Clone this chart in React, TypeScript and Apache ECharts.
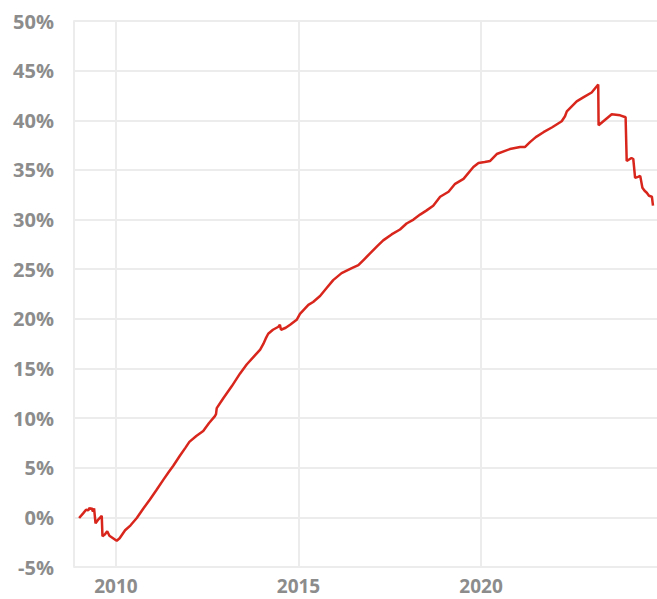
import React, { useEffect, useRef } from "react";
import * as echarts from "echarts";

// Decimal years and cumulative change (%)
const years: number[] = [
  2008.99, 2009.1, 2009.18, 2009.24, 2009.27, 2009.31, 2009.33, 2009.37, 2009.4, 2009.44,
  2009.52, 2009.61, 2009.63, 2009.7, 2009.76, 2009.82, 2009.92, 2010.02, 2010.1, 2010.25,
  2010.4, 2010.57, 2010.75, 2010.93, 2011.1, 2011.3, 2011.45, 2011.57, 2011.75, 2011.9,
  2012.01, 2012.2, 2012.39, 2012.55, 2012.71, 2012.74, 2012.76, 2012.94, 2013.17, 2013.4,
  2013.58, 2013.8, 2013.95, 2014.04, 2014.1, 2014.17, 2014.3, 2014.45, 2014.49, 2014.52,
  2014.65, 2014.77, 2014.95, 2015.04, 2015.27, 2015.4, 2015.59, 2015.77, 2015.95, 2016.18,
  2016.46, 2016.64, 2016.8, 2016.96, 2017.15, 2017.32, 2017.55, 2017.78, 2017.96, 2018.15,
  2018.33, 2018.5, 2018.69, 2018.88, 2019.11, 2019.29, 2019.52, 2019.79, 2019.93, 2020.1,
  2020.25, 2020.43, 2020.79, 2021.07, 2021.2, 2021.34, 2021.5, 2021.71, 2021.95, 2022.21,
  2022.3, 2022.35, 2022.62, 2022.8, 2023.03, 2023.21, 2023.22, 2023.58, 2023.81, 2023.96,
  2023.99, 2024.12, 2024.17, 2024.22, 2024.3, 2024.36, 2024.42, 2024.48, 2024.54, 2024.6,
  2024.68, 2024.71,
];

const values: number[] = [
  -0.07, 0.4, 0.77, 0.7, 0.95, 0.85, 0.95, 0.6, 0.9, -0.6,
  -0.2, 0.15, -1.9, -1.7, -1.4, -1.85, -2.1, -2.35, -2.1, -1.3,
  -0.8, -0.07, 0.9, 1.8, 2.7, 3.8, 4.6, 5.2, 6.2, 7.0,
  7.6, 8.2, 8.7, 9.5, 10.2, 10.4, 11.0, 12.0, 13.2, 14.5,
  15.4, 16.3, 16.9, 17.5, 18.0, 18.5, 18.9, 19.2, 19.4, 18.9,
  19.1, 19.4, 19.9, 20.5, 21.4, 21.7, 22.3, 23.1, 23.9, 24.6,
  25.1, 25.4, 26.0, 26.6, 27.3, 27.9, 28.5, 29.0, 29.6, 30.0,
  30.5, 30.9, 31.4, 32.3, 32.8, 33.6, 34.1, 35.3, 35.7, 35.8,
  35.9, 36.6, 37.1, 37.3, 37.3, 37.8, 38.3, 38.8, 39.3, 39.9,
  40.4, 40.9, 41.9, 42.3, 42.8, 43.6, 39.5, 40.6, 40.5, 40.3,
  35.9, 36.2, 36.1, 34.2, 34.3, 34.4, 33.2, 32.9, 32.7, 32.4,
  32.3, 31.4,
];

const xTickYears: number[] = [2010, 2015, 2020];
const yMin = -5;
const yMax = 50;
const yStep = 5;

export default function App() {
  const ref = useRef<HTMLDivElement>(null);

  useEffect(() => {
    if (!ref.current) return;
    const chart = echarts.init(ref.current, null, { renderer: "svg" });
    const gridColor = "#ececec";
    const labelColor = "#8c8c8c";
    const font = "'Open Sans', 'DejaVu Sans', sans-serif";
    chart.setOption({
      animation: false,
      grid: { left: 74, right: 0, top: 21, bottom: 32, containLabel: false },
      xAxis: {
        type: "value",
        min: 2008.85,
        max: 2024.82,
        axisLine: { show: true, lineStyle: { color: gridColor, width: 2 } },
        axisTick: { show: false, customValues: xTickYears },
        axisLabel: {
          customValues: xTickYears,
          color: labelColor,
          fontSize: 19,
          fontWeight: "bold",
          fontFamily: font,
          margin: 9,
          formatter: (v: number) => String(Math.round(v)),
        },
        splitLine: { show: true, lineStyle: { color: gridColor, width: 2 } },
      },
      yAxis: {
        type: "value",
        min: yMin,
        max: yMax,
        interval: yStep,
        axisLine: { show: true, lineStyle: { color: gridColor, width: 2 } },
        axisTick: { show: false },
        axisLabel: {
          color: labelColor,
          fontSize: 20,
          fontWeight: "bold",
          fontFamily: font,
          margin: 20,
          formatter: "{value}%",
        },
        splitLine: { show: true, lineStyle: { color: gridColor, width: 2 } },
      },
      series: [
        {
          type: "line",
          data: years.map((y, i) => [y, values[i]]),
          showSymbol: false,
          symbol: "none",
          lineStyle: { color: "#d8261d", width: 2.5 },
        },
      ],
    });
    return () => chart.dispose();
  }, []);

  return (
    <div
      ref={ref}
      style={{ position: "fixed", left: 0, top: 0, width: 657, height: 599, background: "#fff" }}
    />
  );
}
